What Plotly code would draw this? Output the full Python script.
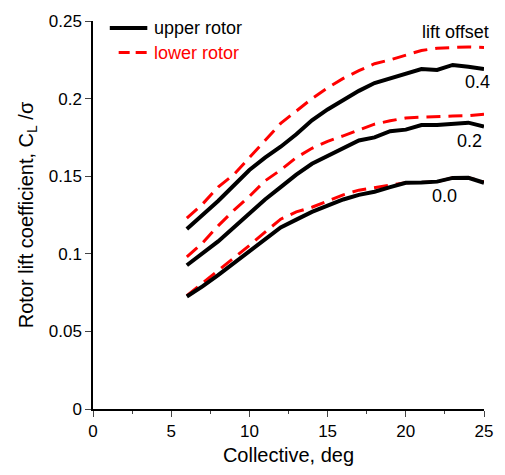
import plotly.graph_objects as go

# Collective pitch, deg
collective = [6, 7, 8, 9, 10, 11, 12, 13, 14, 15, 16, 17, 18, 19, 20, 21, 22, 23, 24, 25]

# Rotor lift coefficient C_L/sigma for each lift offset
upper_00 = [0.0725, 0.079, 0.0863, 0.094, 0.102, 0.110, 0.117, 0.122, 0.127, 0.131,
            0.135, 0.138, 0.140, 0.143, 0.1458, 0.146, 0.1465, 0.1489, 0.149, 0.1458]
lower_00 = [0.073, 0.081, 0.0888, 0.097, 0.1054, 0.114, 0.1223, 0.127, 0.130, 0.134,
            0.138, 0.141, 0.1426, 0.144, 0.1458, 0.146, 0.1464, 0.149, 0.149, 0.1464]
upper_02 = [0.0926, 0.100, 0.108, 0.117, 0.126, 0.135, 0.143, 0.151, 0.158, 0.163,
            0.168, 0.173, 0.175, 0.179, 0.180, 0.183, 0.183, 0.1837, 0.1845, 0.182]
lower_02 = [0.098, 0.107, 0.118, 0.128, 0.137, 0.147, 0.154, 0.162, 0.168, 0.1725,
            0.176, 0.180, 0.1835, 0.1857, 0.1875, 0.188, 0.1885, 0.1888, 0.189, 0.190]
upper_04 = [0.116, 0.125, 0.134, 0.144, 0.154, 0.162, 0.169, 0.177, 0.186, 0.193,
            0.199, 0.205, 0.210, 0.213, 0.216, 0.219, 0.2185, 0.2217, 0.2205, 0.219]
lower_04 = [0.123, 0.132, 0.143, 0.151, 0.162, 0.173, 0.184, 0.192, 0.200, 0.207,
            0.213, 0.218, 0.2225, 0.225, 0.228, 0.231, 0.2325, 0.233, 0.2333, 0.233]

offset_labels = ["0.0", "0.2", "0.4"]
offset_label_pos = [(22.5, 0.137), (24.08, 0.173), (24.56, 0.211)]

x_ticks = [0, 5, 10, 15, 20, 25]
y_ticks = [0, 0.05, 0.1, 0.15, 0.2, 0.25]
y_tick_text = ["0", "0.05", "0.1", "0.15", "0.2", "0.25"]

FONT = "Liberation Sans, Arial, sans-serif"
BLACK = "#000000"
RED = "#ff0000"

fig = go.Figure()

for up, lo in [(upper_00, lower_00), (upper_02, lower_02), (upper_04, lower_04)]:
    fig.add_trace(go.Scatter(x=collective, y=lo, mode="lines",
                             line=dict(color=RED, width=3, dash="14px,8px"),
                             showlegend=False))
    fig.add_trace(go.Scatter(x=collective, y=up, mode="lines",
                             line=dict(color=BLACK, width=4),
                             showlegend=False))

# Hand-placed legend
fig.add_shape(type="line", xref="paper", yref="paper",
              x0=(110 - 93) / 396, x1=(148 - 93) / 396,
              y0=(413 - 26) / 394, y1=(413 - 26) / 394,
              line=dict(color=BLACK, width=4))
fig.add_shape(type="line", xref="paper", yref="paper",
              x0=(119 - 93) / 396, x1=(148 - 93) / 396,
              y0=(413 - 51) / 394, y1=(413 - 51) / 394,
              line=dict(color=RED, width=3, dash="11px,6px"))
fig.add_annotation(xref="paper", yref="paper", x=(153 - 93) / 396, y=(413 - 26) / 394,
                   text="upper rotor", showarrow=False, xanchor="left", yanchor="middle",
                   font=dict(family=FONT, size=18, color=BLACK))
fig.add_annotation(xref="paper", yref="paper", x=(153 - 93) / 396, y=(413 - 51) / 394,
                   text="lower rotor", showarrow=False, xanchor="left", yanchor="middle",
                   font=dict(family=FONT, size=18, color=RED))

fig.add_annotation(x=23.17, y=0.2432, text="lift offset", showarrow=False,
                   xanchor="center", yanchor="middle",
                   font=dict(family=FONT, size=18, color=BLACK))
for txt, (lx, ly) in zip(offset_labels, offset_label_pos):
    fig.add_annotation(x=lx, y=ly, text=txt, showarrow=False,
                       xanchor="center", yanchor="middle",
                       font=dict(family=FONT, size=18, color=BLACK))

fig.update_layout(
    width=505, height=475,
    margin=dict(l=93, r=16, t=19, b=62),
    paper_bgcolor="white", plot_bgcolor="white",
    font=dict(family=FONT, size=16, color=BLACK),
    showlegend=False,
    xaxis=dict(range=[0, 25], tickvals=x_ticks, ticks="outside", ticklen=6, tickwidth=1.2,
               showline=True, linecolor=BLACK, linewidth=1.5, showgrid=False, zeroline=False,
               minor=dict(ticks="outside", dtick=2.5, ticklen=3.5, tickwidth=1.2, showgrid=False),
               tickfont=dict(size=17),
               title=dict(text="Collective, deg", font=dict(size=20), standoff=8)),
    yaxis=dict(range=[0, 0.25], tickvals=y_ticks, ticktext=y_tick_text, ticks="outside",
               ticklen=6, tickwidth=1.2,
               showline=True, linecolor=BLACK, linewidth=1.5, showgrid=False, zeroline=False,
               tickfont=dict(size=17),
               title=dict(text="Rotor lift coefficient, C<sub>L</sub> /σ", font=dict(size=20),
                          standoff=10)),
)

fig.write_html("out.html")
